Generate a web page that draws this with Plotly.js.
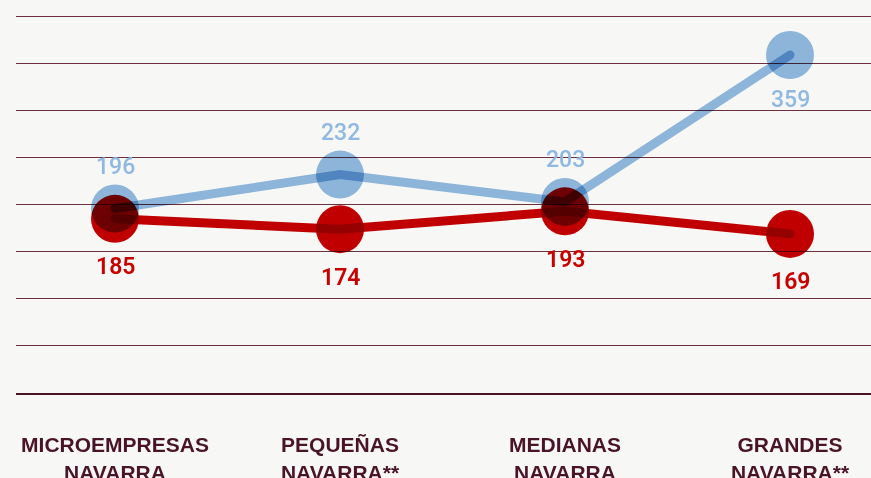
<!DOCTYPE html>
<html><head><meta charset="utf-8">
<script src="https://cdn.plot.ly/plotly-3.0.1.min.js"></script>
<style>
html,body{margin:0;padding:0;background:#f7f7f5;overflow:hidden;}
#chart{width:871px;height:478px;}
.scatterlayer .trace path.js-line, .scatterlayer .trace path.point{mix-blend-mode:multiply;}
.scatterlayer .trace path.js-line{stroke-linecap:round;}
</style></head><body><div id="chart"></div>
<script>
const categories = ["MICROEMPRESAS<br>NAVARRA", "PEQUEÑAS<br>NAVARRA**", "MEDIANAS<br>NAVARRA", "GRANDES<br>NAVARRA**"];
const blueValues = [196, 232, 203, 359];
const redValues = [185, 174, 193, 169];
const blueLabelAbove = [true, true, true, false];

const blue = "rgb(145,187,226)";
const red = "rgb(198,0,0)";

const traces = [
  {
    x: categories, y: blueValues, type: "scatter", mode: "lines+markers",
    line: {color: blue, width: 9},
    marker: {color: blue, size: 48},
    cliponaxis: false, hoverinfo: "skip", showlegend: false
  },
  {
    x: categories, y: redValues, type: "scatter", mode: "lines+markers",
    line: {color: red, width: 9},
    marker: {color: red, size: 48},
    cliponaxis: false, hoverinfo: "skip", showlegend: false
  }
];

const annotations = [];
categories.forEach((c, i) => {
  annotations.push({
    x: c, y: blueValues[i], xref: "x", yref: "y", text: String(blueValues[i]),
    showarrow: false, yshift: blueLabelAbove[i] ? 42 : -44,
    font: {family: "Roboto", size: 23, color: "#8fb8e2", weight: 500}
  });
  annotations.push({
    x: c, y: redValues[i], xref: "x", yref: "y", text: String(redValues[i]),
    showarrow: false, yshift: -48,
    font: {family: "Roboto", size: 23, color: "#c80000", weight: 600}
  });
});

const layout = {
  width: 871, height: 478,
  margin: {l: 16, r: 0, t: 7, b: 85},
  paper_bgcolor: "#f7f7f5", plot_bgcolor: "#f7f7f5",
  showlegend: false,
  annotations: annotations,
  xaxis: {
    type: "category", range: [-0.44, 3.36],
    showgrid: false, zeroline: false,
    showline: true, linecolor: "#4a1424", linewidth: 2,
    ticks: "", ticklabelstandoff: 32,
    tickfont: {family: "Liberation Sans", size: 21, color: "#4a1428", weight: 700}
  },
  yaxis: {
    range: [0, 410], tickvals: [50, 100, 150, 200, 250, 300, 350, 400],
    showgrid: true, gridcolor: "#6a3040", gridwidth: 1,
    zeroline: false, showticklabels: false, ticks: "", showline: false
  }
};

Plotly.newPlot("chart", traces, layout, {displayModeBar: false, staticPlot: true});
</script></body></html>
